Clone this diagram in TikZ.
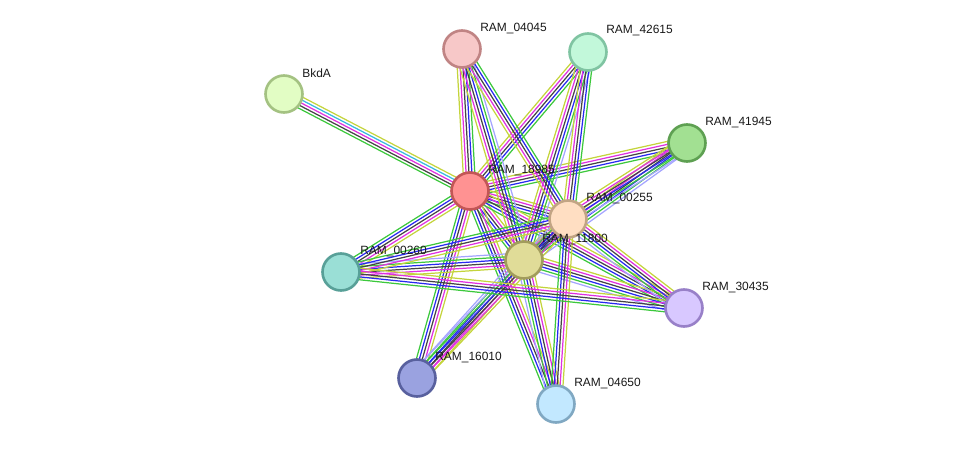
\documentclass[tikz,border=0pt]{standalone}
\usepackage{fontspec}
\setmainfont{Liberation Sans}
\usetikzlibrary{calc, backgrounds}
% evidence colours
\definecolor{neigh}{HTML}{3CC83C}
\definecolor{cooc}{HTML}{2828F0}
\definecolor{coexp}{HTML}{444444}
\definecolor{exper}{HTML}{E030E0}
\definecolor{textm}{HTML}{C4D43C}
\definecolor{dbase}{HTML}{38B8E0}
\definecolor{homol}{HTML}{A4A4FF}
% protein colours (fill / border)
\definecolor{fbkda}{HTML}{E2FDC4}   \definecolor{dbkda}{HTML}{A4C282}
\definecolor{f04045}{HTML}{F7C8C8}  \definecolor{d04045}{HTML}{C08484}
\definecolor{f42615}{HTML}{C2F8DA}  \definecolor{d42615}{HTML}{80C4A2}
\definecolor{f41945}{HTML}{A2E092}  \definecolor{d41945}{HTML}{5EA052}
\definecolor{f18985}{HTML}{FF9292}  \definecolor{d18985}{HTML}{C25656}
\definecolor{f00255}{HTML}{FFDEC2}  \definecolor{d00255}{HTML}{C2A484}
\definecolor{f11800}{HTML}{E0DC98}  \definecolor{d11800}{HTML}{A29C5C}
\definecolor{f00260}{HTML}{9ADFD6}  \definecolor{d00260}{HTML}{58A098}
\definecolor{f30435}{HTML}{D8C8FF}  \definecolor{d30435}{HTML}{9880C8}
\definecolor{f16010}{HTML}{9AA2E0}  \definecolor{d16010}{HTML}{58609E}
\definecolor{f04650}{HTML}{C2E8FF}  \definecolor{d04650}{HTML}{80A8C2}
\tikzset{
  protein/.style={circle, minimum size=0.74cm, inner sep=0pt, line width=1.5pt},
  plabel/.style={anchor=west, inner sep=0pt, font=\fontsize{6.8}{8}\selectfont, text=black!90},
  evline/.style={line width=0.7pt},
}
% one bundle of parallel evidence lines between two proteins
\newcommand{\ppiedge}[3]{%
  \foreach \col [count=\k] in {#3} {\xdef\nedge{\k}}%
  \foreach \col [count=\k] in {#3} {
    \pgfmathsetmacro{\off}{(\k-(\nedge+1)/2)*1.65}
    \draw[evline, \col] ($(#1.center)!\off pt!90:(#2.center)$) -- ($(#2.center)!\off pt!-90:(#1.center)$);
  }%
}
\begin{document}
\begin{tikzpicture}[x=0.02cm, y=-0.02cm]
    \useasboundingbox (0,0) rectangle (975,450);

    \node (bkda) [protein, fill=fbkda, draw=dbkda] at (284,94) {};
    \node (r04045) [protein, fill=f04045, draw=d04045] at (462,49) {};
    \node (r42615) [protein, fill=f42615, draw=d42615] at (588,52) {};
    \node (r41945) [protein, fill=f41945, draw=d41945] at (687,143) {};
    \node (r18985) [protein, fill=f18985, draw=d18985] at (470,191) {};
    \node (r00255) [protein, fill=f00255, draw=d00255] at (568,219) {};
    \node (r11800) [protein, fill=f11800, draw=d11800] at (524,260) {};
    \node (r00260) [protein, fill=f00260, draw=d00260] at (341,272) {};
    \node (r30435) [protein, fill=f30435, draw=d30435] at (684,308) {};
    \node (r16010) [protein, fill=f16010, draw=d16010] at (417,378) {};
    \node (r04650) [protein, fill=f04650, draw=d04650] at (556,404) {};

    \node (tbkda) [plabel] at ($(bkda.center)+(18,-21)$) {BkdA};
    \node (t04045) [plabel] at ($(r04045.center)+(18,-20)$) {RAM\_04045};
    \node (t42615) [plabel] at ($(r42615.center)+(18,-21)$) {RAM\_42615};
    \node (t41945) [plabel] at ($(r41945.center)+(18,-20)$) {RAM\_41945};
    \node (t18985) [plabel] at ($(r18985.center)+(18,-20)$) {RAM\_18985};
    \node (t00255) [plabel] at ($(r00255.center)+(18,-20)$) {RAM\_00255};
    \node (t11800) [plabel] at ($(r11800.center)+(18,-20)$) {RAM\_11800};
    \node (t00260) [plabel] at ($(r00260.center)+(19,-20)$) {RAM\_00260};
    \node (t30435) [plabel] at ($(r30435.center)+(18,-20)$) {RAM\_30435};
    \node (t16010) [plabel] at ($(r16010.center)+(18,-20)$) {RAM\_16010};
    \node (t04650) [plabel] at ($(r04650.center)+(18,-20)$) {RAM\_04650};

    \begin{scope}[on background layer]
        \ppiedge{bkda}{r18985}{neigh, coexp, exper, dbase, textm}
        \ppiedge{r18985}{r04045}{neigh, cooc, coexp, exper, textm}
        \ppiedge{r18985}{r42615}{neigh, cooc, coexp, exper, textm}
        \ppiedge{r18985}{r41945}{neigh, cooc, coexp, exper, textm}
        \ppiedge{r18985}{r00255}{neigh, cooc, coexp, exper, textm}
        \ppiedge{r18985}{r11800}{neigh, cooc, coexp, exper, textm}
        \ppiedge{r18985}{r00260}{neigh, cooc, coexp, exper, textm}
        \ppiedge{r18985}{r30435}{neigh, cooc, coexp, exper, textm}
        \ppiedge{r18985}{r16010}{neigh, cooc, coexp, exper, textm}
        \ppiedge{r18985}{r04650}{neigh, cooc, coexp, exper, textm}
        \ppiedge{r11800}{r04045}{homol, neigh, cooc, coexp, exper, textm}
        \ppiedge{r11800}{r42615}{homol, neigh, cooc, coexp, exper, textm}
        \ppiedge{r11800}{r41945}{homol, neigh, cooc, coexp, exper, textm}
        \ppiedge{r11800}{r00255}{neigh, cooc, coexp, exper, textm}
        \ppiedge{r11800}{r00260}{homol, neigh, cooc, coexp, exper, textm}
        \ppiedge{r11800}{r30435}{homol, neigh, cooc, coexp, exper, textm}
        \ppiedge{r11800}{r16010}{homol, neigh, cooc, coexp, exper, textm}
        \ppiedge{r11800}{r04650}{homol, neigh, cooc, coexp, exper, textm}
        \ppiedge{r00255}{r04045}{neigh, cooc, coexp, exper, textm}
        \ppiedge{r00255}{r42615}{neigh, cooc, coexp, exper, textm}
        \ppiedge{r00255}{r41945}{homol, neigh, cooc, coexp, exper, textm}
        \ppiedge{r00255}{r00260}{neigh, cooc, coexp, exper, textm}
        \ppiedge{r00255}{r30435}{homol, neigh, cooc, coexp, exper, textm}
        \ppiedge{r00255}{r16010}{homol, neigh, cooc, coexp, exper, textm}
        \ppiedge{r00255}{r04650}{neigh, cooc, coexp, exper, textm}
        \ppiedge{r00260}{r30435}{neigh, cooc, coexp, exper, textm}
    \end{scope}
\end{tikzpicture}
\end{document}
